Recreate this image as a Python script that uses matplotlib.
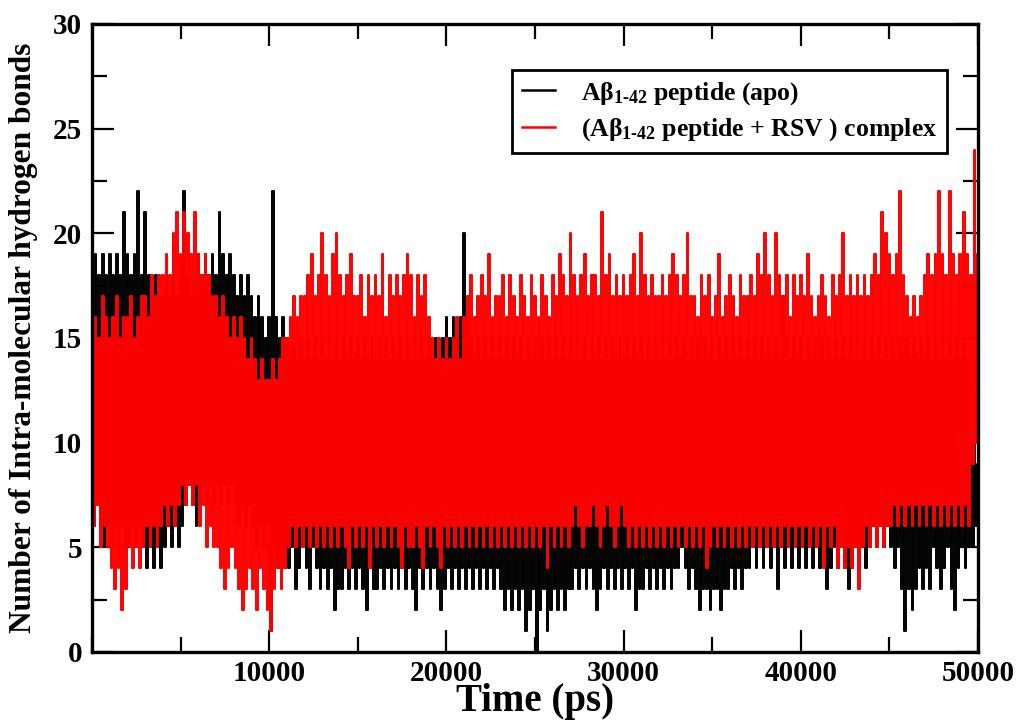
import numpy as np
import matplotlib
matplotlib.use("Agg")
import matplotlib.pyplot as plt
from matplotlib.ticker import MultipleLocator

# Hydrogen-bond counts sampled every 100 ps (one row = 1 ns)
apo_hbonds = [
    18, 6, 19, 7, 18, 6, 19, 5, 18, 6,
    19, 5, 18, 6, 19, 5, 18, 6, 21, 5,
    19, 5, 18, 6, 19, 5, 22, 6, 18, 5,
    21, 4, 18, 5, 17, 4, 18, 5, 17, 4,
    17, 5, 18, 6, 17, 5, 18, 6, 17, 5,
    18, 6, 22, 7, 18, 8, 17, 7, 18, 6,
    19, 7, 18, 8, 19, 7, 18, 8, 19, 7,
    18, 8, 21, 7, 19, 8, 18, 7, 19, 8,
    18, 7, 17, 6, 18, 7, 17, 6, 18, 7,
    17, 6, 16, 5, 17, 6, 16, 5, 15, 6,
    16, 1, 22, 5, 16, 4, 15, 5, 16, 4,
    15, 4, 14, 5, 15, 3, 14, 4, 15, 5,
    14, 4, 15, 3, 14, 5, 15, 4, 14, 3,
    15, 4, 14, 3, 15, 4, 14, 2, 15, 3,
    14, 3, 15, 4, 14, 3, 15, 4, 14, 3,
    15, 4, 14, 3, 15, 2, 14, 4, 15, 3,
    14, 3, 15, 4, 14, 3, 15, 4, 14, 3,
    15, 4, 14, 3, 15, 4, 14, 3, 15, 4,
    14, 3, 15, 2, 14, 4, 15, 3, 14, 4,
    15, 3, 14, 4, 15, 3, 14, 2, 15, 3,
    16, 4, 15, 3, 16, 4, 15, 3, 16, 4,
    20, 3, 16, 4, 15, 3, 14, 4, 15, 3,
    14, 4, 15, 3, 14, 4, 15, 3, 14, 4,
    15, 3, 14, 2, 15, 3, 14, 2, 15, 3,
    14, 2, 15, 3, 14, 1, 15, 2, 14, 3,
    15, 0, 14, 2, 15, 3, 14, 1, 15, 2,
    14, 3, 15, 2, 14, 3, 15, 2, 14, 3,
    15, 3, 14, 4, 15, 3, 14, 4, 15, 3,
    14, 4, 15, 3, 14, 2, 15, 3, 14, 4,
    15, 3, 14, 4, 15, 3, 14, 4, 15, 3,
    14, 4, 15, 3, 14, 4, 15, 2, 14, 3,
    15, 3, 14, 4, 15, 3, 14, 4, 15, 3,
    14, 4, 15, 3, 14, 4, 15, 3, 14, 4,
    15, 4, 14, 5, 15, 4, 14, 3, 15, 4,
    14, 3, 15, 2, 14, 3, 15, 3, 14, 2,
    15, 3, 14, 3, 15, 2, 14, 3, 15, 3,
    14, 4, 15, 3, 14, 4, 15, 3, 14, 4,
    15, 4, 14, 5, 15, 4, 14, 5, 15, 4,
    14, 5, 15, 4, 14, 5, 15, 3, 14, 5,
    17, 4, 15, 5, 14, 4, 15, 5, 14, 4,
    15, 5, 14, 4, 15, 5, 14, 4, 15, 5,
    14, 4, 15, 5, 14, 3, 15, 4, 14, 5,
    15, 4, 14, 5, 15, 4, 14, 3, 15, 4,
    14, 5, 15, 4, 14, 5, 15, 4, 14, 5,
    15, 6, 14, 5, 15, 6, 14, 5, 15, 6,
    14, 5, 15, 4, 14, 5, 15, 3, 15, 1,
    15, 3, 14, 2, 15, 3, 14, 4, 15, 3,
    14, 4, 15, 3, 14, 5, 15, 4, 14, 3,
    15, 4, 14, 5, 15, 3, 14, 2, 15, 4,
    14, 5, 15, 4, 14, 5, 10, 5, 10, 6,
    9,
]

complex_hbonds = [
    10, 6, 16, 7, 15, 5, 17, 6, 16, 5,
    15, 4, 16, 3, 17, 4, 15, 2, 16, 3,
    16, 5, 17, 4, 15, 5, 16, 4, 17, 5,
    17, 6, 16, 5, 18, 6, 17, 5, 18, 6,
    18, 7, 19, 6, 18, 7, 20, 6, 21, 7,
    19, 8, 21, 7, 20, 8, 19, 7, 21, 8,
    19, 6, 18, 7, 19, 5, 18, 6, 17, 5,
    17, 5, 16, 4, 17, 3, 16, 4, 15, 5,
    16, 4, 15, 3, 16, 2, 15, 3, 14, 4,
    15, 3, 14, 2, 13, 4, 14, 3, 13, 2,
    13, 1, 14, 3, 13, 4, 14, 3, 15, 4,
    15, 5, 16, 6, 17, 5, 16, 6, 17, 5,
    17, 6, 18, 5, 19, 6, 17, 5, 18, 6,
    20, 5, 18, 6, 17, 5, 19, 6, 20, 5,
    18, 6, 17, 5, 18, 4, 19, 6, 17, 5,
    17, 6, 18, 5, 16, 6, 18, 4, 17, 6,
    18, 5, 17, 6, 19, 5, 16, 6, 18, 5,
    17, 6, 18, 5, 17, 4, 18, 6, 19, 5,
    18, 5, 16, 6, 18, 5, 17, 4, 18, 6,
    16, 5, 15, 6, 14, 5, 15, 4, 14, 6,
    15, 5, 14, 6, 15, 5, 16, 6, 14, 5,
    16, 6, 17, 5, 18, 6, 16, 5, 17, 6,
    18, 5, 17, 6, 19, 5, 16, 6, 17, 5,
    17, 6, 18, 5, 16, 6, 18, 5, 17, 6,
    16, 5, 18, 6, 17, 5, 16, 6, 18, 5,
    17, 6, 16, 5, 18, 6, 17, 4, 16, 6,
    18, 5, 17, 6, 19, 5, 18, 6, 17, 5,
    20, 6, 18, 7, 17, 6, 18, 5, 19, 6,
    17, 6, 18, 7, 18, 6, 17, 5, 21, 6,
    18, 7, 19, 6, 17, 5, 18, 6, 17, 7,
    18, 6, 17, 5, 18, 6, 19, 5, 17, 6,
    20, 5, 18, 6, 17, 5, 18, 6, 17, 5,
    17, 6, 18, 5, 17, 6, 18, 5, 19, 6,
    18, 5, 17, 6, 18, 5, 20, 6, 17, 5,
    17, 6, 16, 5, 18, 6, 17, 4, 18, 5,
    16, 6, 17, 5, 19, 6, 16, 5, 17, 6,
    18, 5, 17, 6, 16, 5, 18, 6, 17, 5,
    17, 6, 18, 5, 17, 6, 19, 5, 18, 6,
    20, 5, 18, 6, 17, 5, 20, 6, 18, 5,
    17, 6, 18, 5, 16, 6, 18, 5, 17, 6,
    18, 5, 17, 6, 19, 5, 17, 6, 16, 5,
    17, 6, 18, 4, 17, 6, 16, 5, 18, 6,
    17, 4, 18, 5, 20, 4, 17, 5, 18, 4,
    17, 5, 18, 3, 17, 5, 18, 6, 17, 5,
    18, 6, 19, 5, 18, 6, 21, 5, 20, 6,
    19, 6, 18, 7, 19, 6, 22, 7, 18, 6,
    17, 7, 16, 6, 17, 7, 16, 6, 17, 7,
    18, 6, 19, 7, 18, 6, 19, 7, 22, 6,
    19, 7, 18, 6, 22, 7, 19, 6, 18, 7,
    19, 6, 21, 7, 19, 6, 18, 9, 24, 10,
    19,
]

sample_step_ps = 100
x_tick_values = [10000, 20000, 30000, 40000, 50000]
y_tick_values = [0, 5, 10, 15, 20, 25, 30]

apo_label = r"A$\beta_{1\text{-}42}$ peptide (apo)"
complex_label = r"(A$\beta_{1\text{-}42}$ peptide + RSV ) complex"

plt.rcParams["font.family"] = ["Liberation Serif", "DejaVu Serif"]
plt.rcParams["font.weight"] = "bold"
plt.rcParams["mathtext.fontset"] = "custom"
plt.rcParams["mathtext.rm"] = "Liberation Serif:bold"
plt.rcParams["mathtext.it"] = "Liberation Serif:bold"
plt.rcParams["mathtext.bf"] = "Liberation Serif:bold"
# keep every up/down swing of the dense traces
plt.rcParams["path.simplify"] = False

time_ps = np.arange(len(apo_hbonds)) * sample_step_ps

W, H = 1022, 724
left, right, top, bottom = 92, 978, 24, 652
fig = plt.figure(figsize=(W / 100, H / 100), dpi=100)
ax = fig.add_axes([left / W, 1 - bottom / H, (right - left) / W, (bottom - top) / H])

ax.plot(time_ps, apo_hbonds, color="black", lw=1.4, drawstyle="steps-mid",
        label=apo_label)
ax.plot(time_ps, complex_hbonds, color="#ff0000", lw=1.4, drawstyle="steps-mid",
        label=complex_label)

ax.set_xlim(0, 50000)
ax.set_ylim(0, 30)
ax.set_xticks(x_tick_values)
ax.set_yticks(y_tick_values)
ax.xaxis.set_minor_locator(MultipleLocator(5000))
ax.yaxis.set_minor_locator(MultipleLocator(2.5))
ax.tick_params(which="both", direction="in", top=True, right=True, width=1.6)
ax.tick_params(which="major", length=16, labelsize=21)
ax.tick_params(which="minor", length=10.5)
ax.tick_params(axis="x", which="major", pad=6)
ax.tick_params(axis="y", which="major", pad=7)
for lbl in ax.get_xticklabels() + ax.get_yticklabels():
    lbl.set_fontweight("bold")
for sp in ax.spines.values():
    sp.set_linewidth(2.4)

ax.set_xlabel("Time (ps)", fontsize=28, fontweight="bold")
ax.xaxis.label.set_va("baseline")
ax.xaxis.set_label_coords(0.5, (bottom - 711) / (bottom - top))
ax.set_ylabel("Number of Intra-molecular hydrogen bonds", fontsize=22.6,
              fontweight="bold")
ax.yaxis.label.set_va("center")
ax.yaxis.set_label_coords((24 - left) / (right - left), 0.5)

leg = ax.legend(loc="upper right",
                bbox_to_anchor=((947 - left) / (right - left), (bottom - 70) / (bottom - top)),
                borderaxespad=0, fontsize=18.5, frameon=True, fancybox=False,
                framealpha=1, edgecolor="black", handlelength=1.3,
                handletextpad=1.0, borderpad=0.38, labelspacing=0.38)
leg.get_frame().set_linewidth(2)
for h in leg.legend_handles:
    h.set_linewidth(1.8)

fig.savefig("out.png", dpi=100)
